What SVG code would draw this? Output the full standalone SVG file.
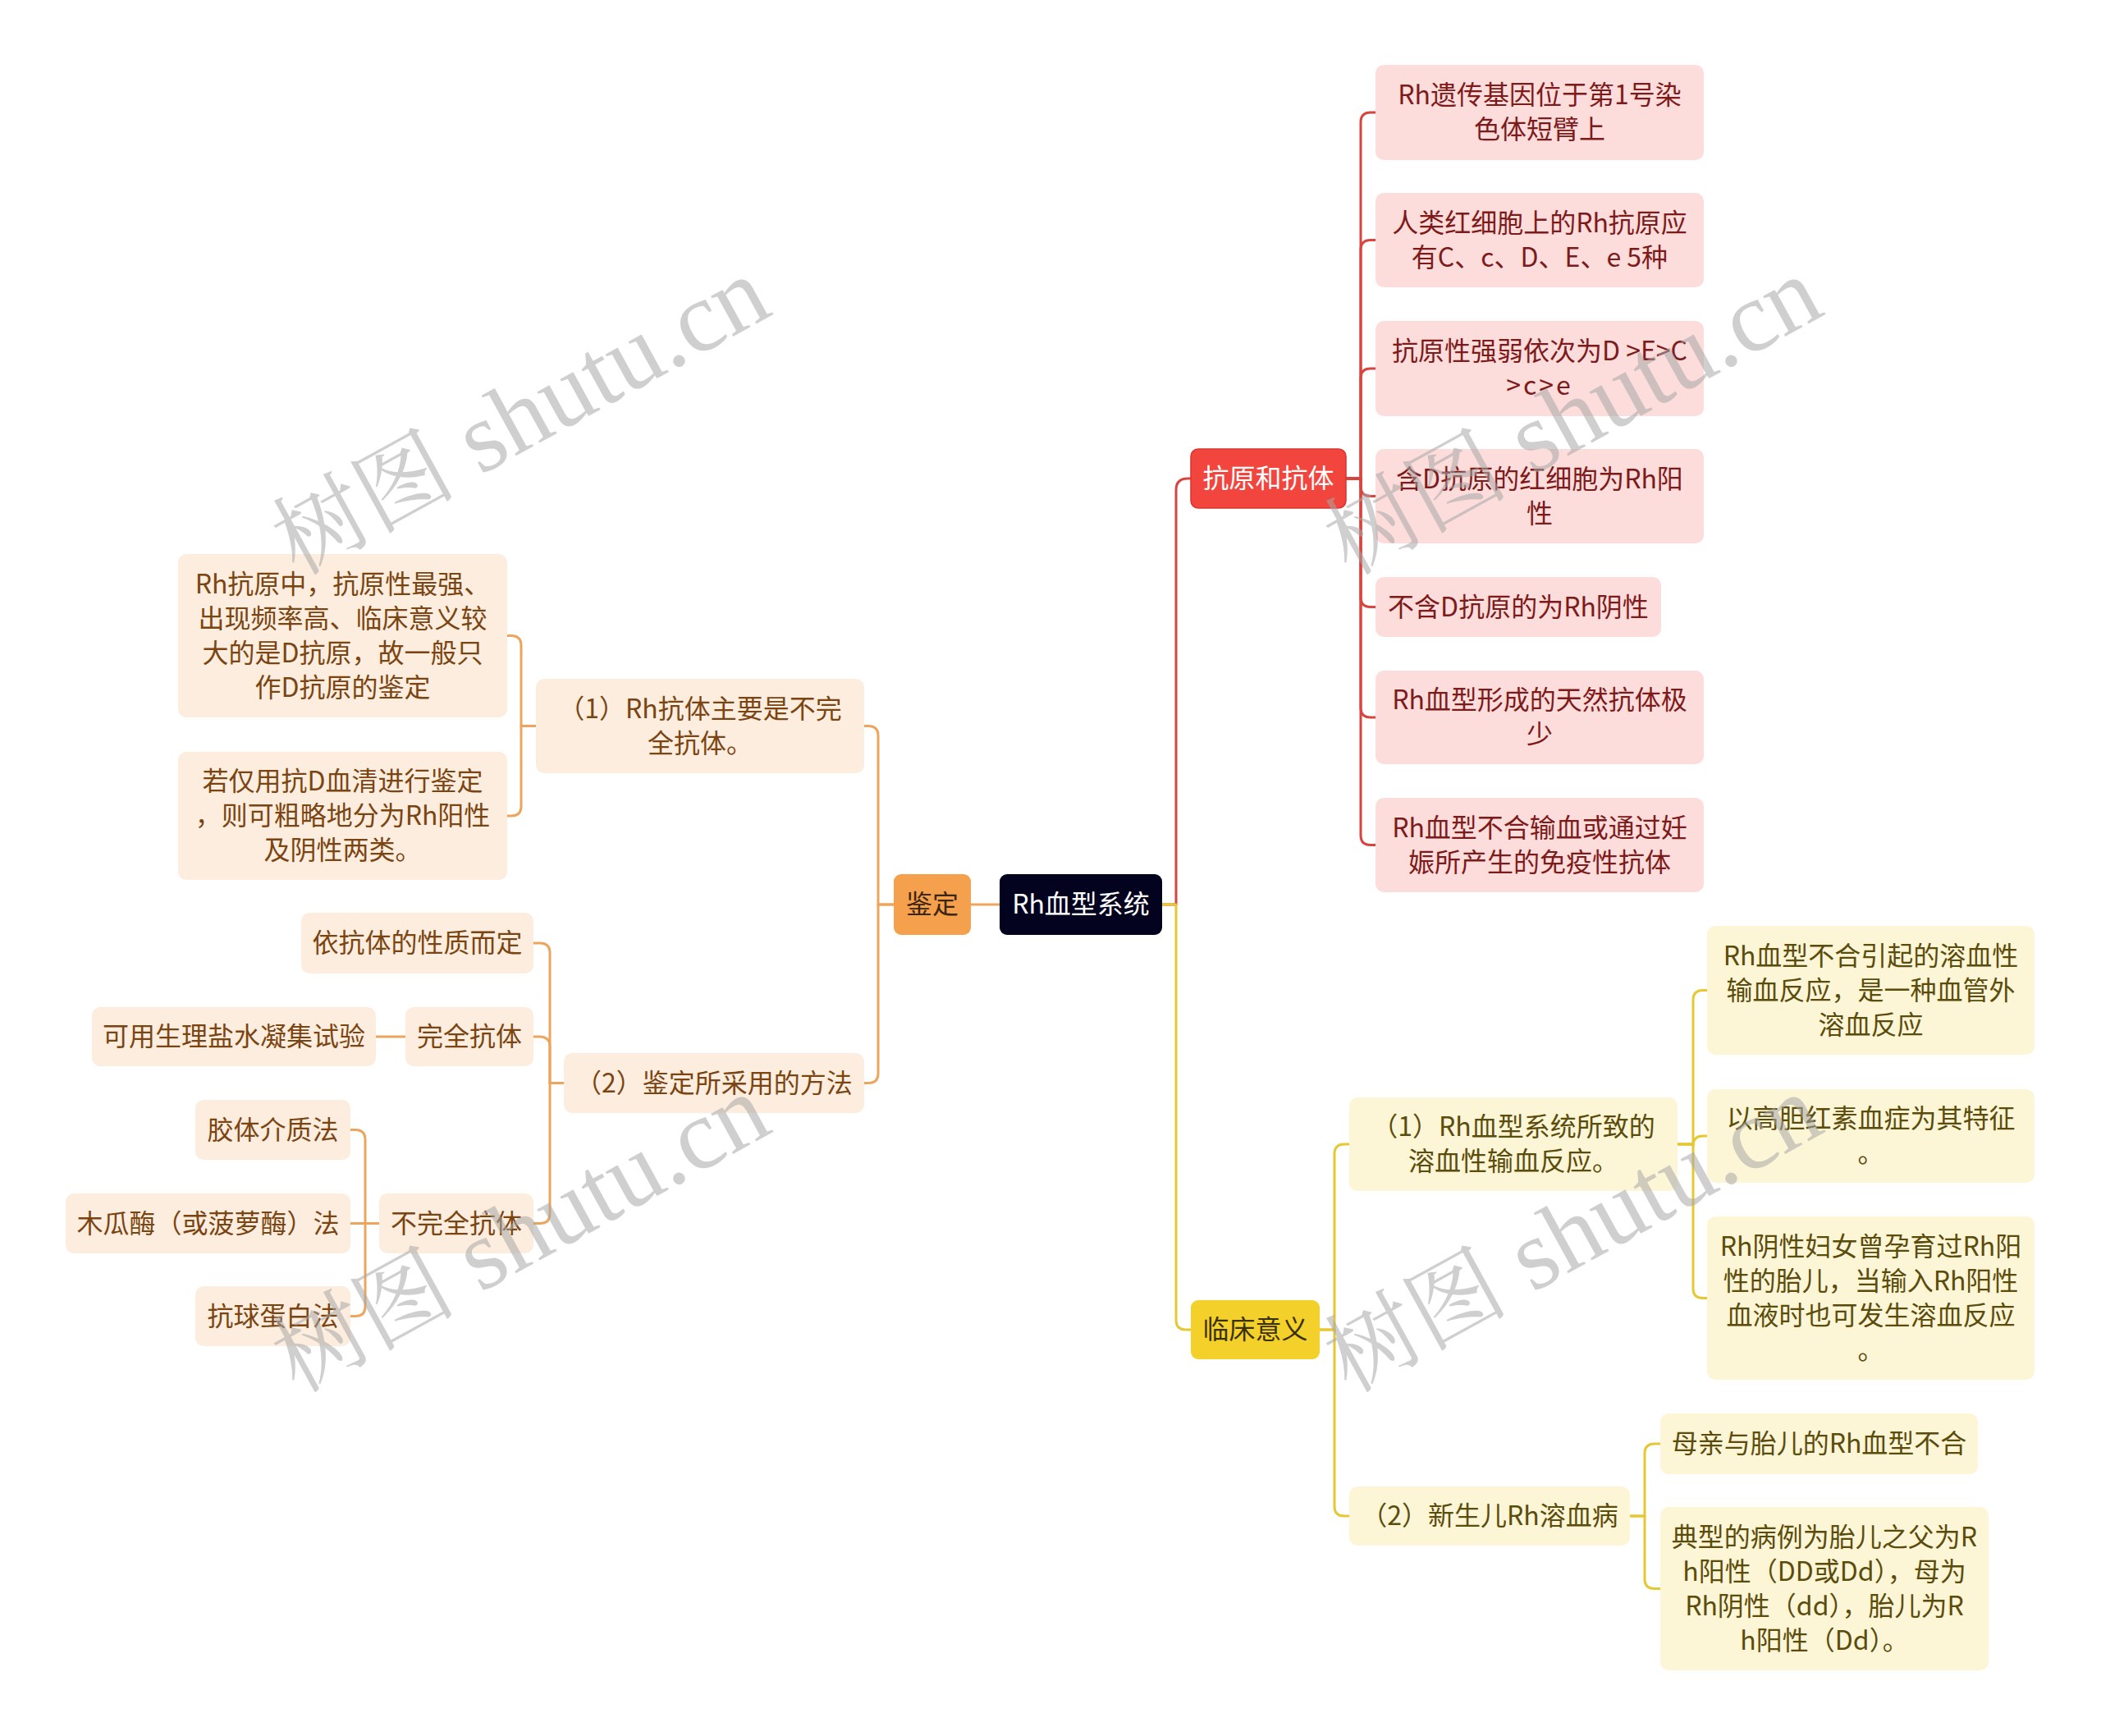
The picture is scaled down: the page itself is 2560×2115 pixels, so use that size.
<svg xmlns="http://www.w3.org/2000/svg" width="2560" height="2115" viewBox="0 0 2560 2115">
<style>
text{font-family:"Noto Sans CJK SC","Noto Sans",sans-serif;font-size:32px;text-anchor:middle}
.c{fill:none;stroke-width:3;stroke-linecap:round;stroke-linejoin:round}
.cr{stroke:#D8453F}.co{stroke:#EDA55E}.cy{stroke:#E6C832}
.lr{fill:#FDDCDC}.tr{fill:#7D1A1A}
.lo{fill:#FDEDDE}.to{fill:#7A4512}
.ly{fill:#FCF5D6}.ty{fill:#5B4C0C}
.wm{font-family:"Liberation Serif","Noto Serif CJK SC","Noto Sans CJK SC",serif;font-size:122px;text-anchor:start;fill:#A8A8A8;fill-opacity:0.55}
.wc{font-size:112px}
</style>
<rect width="2560" height="2115" fill="#FFFFFF"/>
<g id="connectors">
<path class="c cr" d="M1416,1102 H1433 V597 Q1433,583 1447,583 H1451"/>
<path class="c cr" d="M1640,583 H1658 V149 Q1658,137 1670,137 H1676"/>
<path class="c cr" d="M1640,583 H1658 V304.5 Q1658,292.5 1670,292.5 H1676"/>
<path class="c cr" d="M1640,583 H1658 V461 Q1658,449 1670,449 H1676"/>
<path class="c cr" d="M1640,583 H1658 V592.5 Q1658,604.5 1670,604.5 H1676"/>
<path class="c cr" d="M1640,583 H1658 V727.5 Q1658,739.5 1670,739.5 H1676"/>
<path class="c cr" d="M1640,583 H1658 V862 Q1658,874 1670,874 H1676"/>
<path class="c cr" d="M1640,583 H1658 V1017.5 Q1658,1029.5 1670,1029.5 H1676"/>
<path class="c co" d="M1218,1102 H1183"/>
<path class="c co" d="M1089,1102 H1070 V896.5 Q1070,884.5 1058,884.5 H1053"/>
<path class="c co" d="M1089,1102 H1070 V1307.5 Q1070,1319.5 1058,1319.5 H1053"/>
<path class="c co" d="M653,884.5 H635 V786.5 Q635,774.5 623,774.5 H618"/>
<path class="c co" d="M653,884.5 H635 V982 Q635,994 623,994 H618"/>
<path class="c co" d="M687,1319.5 H670 V1161 Q670,1149 658,1149 H650"/>
<path class="c co" d="M687,1319.5 H670 V1275 Q670,1263 658,1263 H650"/>
<path class="c co" d="M687,1319.5 H670 V1478.5 Q670,1490.5 658,1490.5 H650"/>
<path class="c co" d="M494,1263 H458"/>
<path class="c co" d="M462,1490.5 H445 V1388.5 Q445,1376.5 433,1376.5 H427"/>
<path class="c co" d="M462,1490.5 H427"/>
<path class="c co" d="M462,1490.5 H445 V1591.5 Q445,1603.5 433,1603.5 H427"/>
<path class="c cy" d="M1416,1102 H1433 V1608 Q1433,1620 1445,1620 H1451"/>
<path class="c cy" d="M1608,1620 H1626 V1406 Q1626,1394 1638,1394 H1644"/>
<path class="c cy" d="M1608,1620 H1626 V1835 Q1626,1847 1638,1847 H1644"/>
<path class="c cy" d="M2044,1394 H2063 V1218.5 Q2063,1206.5 2075,1206.5 H2080"/>
<path class="c cy" d="M2044,1394 H2063 V1396 Q2063,1384 2075,1384 H2080"/>
<path class="c cy" d="M2044,1394 H2063 V1569.5 Q2063,1581.5 2075,1581.5 H2080"/>
<path class="c cy" d="M1986,1847 H2004 V1771 Q2004,1759 2016,1759 H2023"/>
<path class="c cy" d="M1986,1847 H2004 V1923.5 Q2004,1935.5 2016,1935.5 H2023"/>
</g>
<g id="root"><rect x="1218" y="1065" width="198" height="74" rx="9" fill="#03031F"/><text x="1317" y="1113" fill="#FFFFFF">Rh血型系统</text></g>
<g id="n-kangyuan"><rect x="1451" y="547" width="189" height="72" rx="9" fill="#F2453D" stroke="#D9362F" stroke-width="1.5"/><text x="1545.5" y="594" fill="#FFFFFF">抗原和抗体</text></g>
<g id="n-jianding"><rect x="1089" y="1065" width="94" height="74" rx="9" fill="#F5A04C"/><text x="1136" y="1113" fill="#3B2410">鉴定</text></g>
<g id="n-linchuang"><rect x="1451" y="1584" width="157" height="72" rx="9" fill="#F3D12A"/><text x="1529.5" y="1631" fill="#3A3000">临床意义</text></g>
<g id="r1"><rect class="lr" x="1676" y="79" width="400" height="116" rx="10"/><text class="tr" x="1876" y="127">Rh遗传基因位于第1号染</text><text class="tr" x="1876" y="169">色体短臂上</text></g>
<g id="r2"><rect class="lr" x="1676" y="235" width="400" height="115" rx="10"/><text class="tr" x="1876" y="282.5">人类红细胞上的Rh抗原应</text><text class="tr" x="1876" y="324.5">有C、c、D、E、e 5种</text></g>
<g id="r3"><rect class="lr" x="1676" y="391" width="400" height="116" rx="10"/><text class="tr" x="1876" y="439">抗原性强弱依次为D &gt;E&gt;C</text><text class="tr" x="1876" y="481" letter-spacing="3">&gt;c&gt;e</text></g>
<g id="r4"><rect class="lr" x="1676" y="547" width="400" height="115" rx="10"/><text class="tr" x="1876" y="594.5">含D抗原的红细胞为Rh阳</text><text class="tr" x="1876" y="636.5">性</text></g>
<g id="r5"><rect class="lr" x="1676" y="703" width="348" height="73" rx="10"/><text class="tr" x="1850" y="750.5">不含D抗原的为Rh阴性</text></g>
<g id="r6"><rect class="lr" x="1676" y="817" width="400" height="114" rx="10"/><text class="tr" x="1876" y="864">Rh血型形成的天然抗体极</text><text class="tr" x="1876" y="906">少</text></g>
<g id="r7"><rect class="lr" x="1676" y="972" width="400" height="115" rx="10"/><text class="tr" x="1876" y="1019.5">Rh血型不合输血或通过妊</text><text class="tr" x="1876" y="1061.5">娠所产生的免疫性抗体</text></g>
<g id="o1"><rect class="lo" x="653" y="827" width="400" height="115" rx="10"/><text class="to" x="853" y="874.5">（1）Rh抗体主要是不完</text><text class="to" x="853" y="916.5">全抗体。</text></g>
<g id="o1a"><rect class="lo" x="217" y="675" width="401" height="199" rx="10"/><text class="to" x="417.5" y="722.5">Rh抗原中，抗原性最强、</text><text class="to" x="417.5" y="764.5">出现频率高、临床意义较</text><text class="to" x="417.5" y="806.5">大的是D抗原，故一般只</text><text class="to" x="417.5" y="848.5">作D抗原的鉴定</text></g>
<g id="o1b"><rect class="lo" x="217" y="916" width="401" height="156" rx="10"/><text class="to" x="417.5" y="963">若仅用抗D血清进行鉴定</text><text class="to" x="417.5" y="1005">，则可粗略地分为Rh阳性</text><text class="to" x="417.5" y="1047">及阴性两类。</text></g>
<g id="o2"><rect class="lo" x="687" y="1283" width="366" height="73" rx="10"/><text class="to" x="870" y="1330.5">（2）鉴定所采用的方法</text></g>
<g id="o2a"><rect class="lo" x="367" y="1112" width="283" height="74" rx="10"/><text class="to" x="508.5" y="1160">依抗体的性质而定</text></g>
<g id="o2b"><rect class="lo" x="494" y="1227" width="156" height="72" rx="10"/><text class="to" x="572" y="1274">完全抗体</text></g>
<g id="o2b1"><rect class="lo" x="112" y="1227" width="346" height="72" rx="10"/><text class="to" x="285" y="1274">可用生理盐水凝集试验</text></g>
<g id="o2c"><rect class="lo" x="462" y="1454" width="188" height="73" rx="10"/><text class="to" x="556" y="1501.5">不完全抗体</text></g>
<g id="o2c1"><rect class="lo" x="238" y="1340" width="189" height="73" rx="10"/><text class="to" x="332.5" y="1387.5">胶体介质法</text></g>
<g id="o2c2"><rect class="lo" x="80" y="1454" width="347" height="73" rx="10"/><text class="to" x="253.5" y="1501.5">木瓜酶（或菠萝酶）法</text></g>
<g id="o2c3"><rect class="lo" x="238" y="1567" width="189" height="73" rx="10"/><text class="to" x="332.5" y="1614.5">抗球蛋白法</text></g>
<g id="y1"><rect class="ly" x="1644" y="1337" width="400" height="114" rx="10"/><text class="ty" x="1844" y="1384">（1）Rh血型系统所致的</text><text class="ty" x="1844" y="1426">溶血性输血反应。</text></g>
<g id="y1a"><rect class="ly" x="2080" y="1128" width="399" height="157" rx="10"/><text class="ty" x="2279.5" y="1175.5">Rh血型不合引起的溶血性</text><text class="ty" x="2279.5" y="1217.5">输血反应，是一种血管外</text><text class="ty" x="2279.5" y="1259.5">溶血反应</text></g>
<g id="y1b"><rect class="ly" x="2080" y="1327" width="399" height="114" rx="10"/><text class="ty" x="2279.5" y="1374">以高胆红素血症为其特征</text><text class="ty" x="2279.5" y="1416">。</text></g>
<g id="y1c"><rect class="ly" x="2080" y="1482" width="399" height="199" rx="10"/><text class="ty" x="2279.5" y="1529.5">Rh阴性妇女曾孕育过Rh阳</text><text class="ty" x="2279.5" y="1571.5">性的胎儿，当输入Rh阳性</text><text class="ty" x="2279.5" y="1613.5">血液时也可发生溶血反应</text><text class="ty" x="2279.5" y="1655.5">。</text></g>
<g id="y2"><rect class="ly" x="1644" y="1811" width="342" height="72" rx="10"/><text class="ty" x="1815" y="1858">（2）新生儿Rh溶血病</text></g>
<g id="y2a"><rect class="ly" x="2023" y="1722" width="387" height="74" rx="10"/><text class="ty" x="2216.5" y="1770">母亲与胎儿的Rh血型不合</text></g>
<g id="y2b"><rect class="ly" x="2023" y="1836" width="400" height="199" rx="10"/><text class="ty" x="2223" y="1883.5">典型的病例为胎儿之父为R</text><text class="ty" x="2223" y="1925.5">h阳性（DD或Dd），母为</text><text class="ty" x="2223" y="1967.5">Rh阴性（dd），胎儿为R</text><text class="ty" x="2223" y="2009.5">h阳性（Dd）。</text></g>
<g id="watermarks">
<text class="wm" transform="translate(362,702) rotate(-28.8)"><tspan class="wc">树图</tspan> shutu.cn</text>
<text class="wm" transform="translate(1644,702) rotate(-28.8)"><tspan class="wc">树图</tspan> shutu.cn</text>
<text class="wm" transform="translate(362,1698) rotate(-28.8)"><tspan class="wc">树图</tspan> shutu.cn</text>
<text class="wm" transform="translate(1644,1698) rotate(-28.8)"><tspan class="wc">树图</tspan> shutu.cn</text>
</g>
</svg>
